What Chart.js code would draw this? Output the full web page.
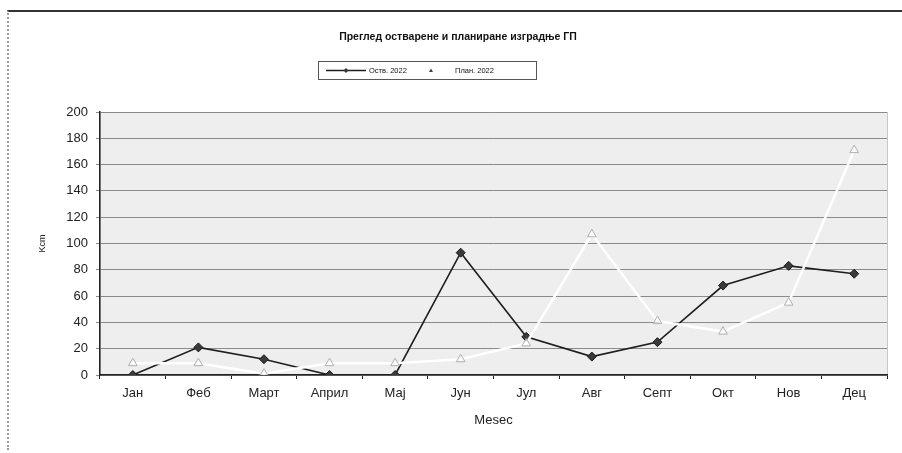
<!DOCTYPE html>
<html>
<head>
<meta charset="utf-8">
<script src="https://cdn.jsdelivr.net/npm/chart.js@4.4.1/dist/chart.umd.min.js"></script>
<style>
  html, body { margin: 0; padding: 0; background: #fff; }
  #wrap { position: relative; width: 902px; height: 453px; }
  #frame { position: absolute; left: 7px; top: 10px; right: 0; bottom: 3px;
           border-top: 2px solid #333; border-left: 2px dotted #999; pointer-events: none; }
</style>
</head>
<body>
<div id="wrap">
  <canvas id="chart" width="902" height="453"></canvas>
  <div id="frame"></div>
</div>
<script>
const months = ["Јан", "Феб", "Март", "Април", "Мај", "Јун", "Јул", "Авг", "Септ", "Окт", "Нов", "Дец"];
const actual2022 = [0, 21, 12, 0, 0, 93, 29, 14, 25, 68, 83, 77];
const plan2022 = [9, 9, 1, 9, 9, 12, 24, 107, 41, 33, 55, 171];
const titleText = "Преглед остварене и планиране изградње ГП";
const fontFamily = "'Liberation Sans', Arial, sans-serif";

// plot background + title + boxed legend, drawn on the canvas
const decor = {
  id: "decor",
  beforeDraw(chart) {
    const { ctx, chartArea: a } = chart;
    ctx.save();
    ctx.fillStyle = "#eeeeee";
    ctx.fillRect(a.left, a.top, a.right - a.left, a.bottom - a.top);
    ctx.strokeStyle = "#c8c8c8";
    ctx.lineWidth = 1;
    ctx.strokeRect(a.left + 0.5, a.top + 0.5, a.right - a.left, a.bottom - a.top);
    ctx.restore();
  },
  afterDraw(chart) {
    const { ctx } = chart;
    const ds = chart.data.datasets;
    ctx.save();
    ctx.fillStyle = "#111";
    ctx.font = "bold 10.5px " + fontFamily;
    ctx.textAlign = "center";
    ctx.textBaseline = "middle";
    ctx.fillText(titleText, 458, 37);

    // legend box
    ctx.strokeStyle = "#555";
    ctx.lineWidth = 1;
    ctx.strokeRect(318.5, 61.5, 218, 18);
    ctx.font = "7.5px " + fontFamily;
    ctx.textAlign = "left";
    const y = 70.5;
    // actual
    ctx.strokeStyle = ds[0].borderColor;
    ctx.lineWidth = 1.5;
    ctx.beginPath(); ctx.moveTo(326, y); ctx.lineTo(366, y); ctx.stroke();
    ctx.fillStyle = ds[0].pointBackgroundColor;
    ctx.beginPath();
    ctx.moveTo(346, y - 2.5); ctx.lineTo(348.5, y); ctx.lineTo(346, y + 2.5); ctx.lineTo(343.5, y);
    ctx.closePath(); ctx.fill();
    ctx.fillStyle = "#111";
    ctx.fillText(ds[0].label, 369, y);
    // plan
    ctx.fillStyle = "#444";
    ctx.beginPath();
    ctx.moveTo(431, y - 2); ctx.lineTo(433, y + 1.5); ctx.lineTo(429, y + 1.5);
    ctx.closePath(); ctx.fill();
    ctx.fillStyle = "#111";
    ctx.fillText(ds[1].label, 455, y);
    ctx.restore();
  }
};

new Chart(document.getElementById("chart"), {
  type: "line",
  data: {
    labels: months,
    datasets: [
      {
        label: "Оств. 2022",
        data: actual2022,
        borderColor: "#1e1e1e",
        borderWidth: 1.6,
        pointStyle: "rectRot",
        pointRadius: 4.5,
        pointBackgroundColor: "#3a3a3a",
        pointBorderColor: "#1a1a1a",
        pointBorderWidth: 1,
        order: 2,
      },
      {
        label: "План. 2022",
        data: plan2022,
        borderColor: "#ffffff",
        borderWidth: 2.5,
        pointStyle: "triangle",
        pointRadius: 5,
        pointBackgroundColor: "rgba(255,255,255,0.6)",
        pointBorderColor: "#b0b0b0",
        pointBorderWidth: 1,
        order: 1,
      },
    ],
  },
  options: {
    responsive: false,
    animation: false,
    layout: { padding: { left: 8, right: 15, top: 112, bottom: 0 } },
    plugins: { legend: { display: false }, title: { display: false }, tooltip: { enabled: false } },
    scales: {
      x: {
        offset: true,
        grid: { offset: true, drawOnChartArea: false, color: "#222", tickLength: 4 },
        border: { color: "#222", width: 1.5 },
        ticks: { color: "#222", font: { size: 13, family: fontFamily }, padding: 7, maxRotation: 0 },
        title: { display: true, text: "Mesec", color: "#222", font: { size: 13, family: fontFamily }, padding: { top: 25, bottom: 25 } },
        afterFit(s) { s.height = 78; },
      },
      y: {
        min: 0,
        max: 200,
        ticks: { stepSize: 20, color: "#222", font: { size: 13, family: fontFamily }, padding: 8 },
        grid: { color: "#8a8a8a", lineWidth: 1, tickLength: 4 },
        border: { color: "#222", width: 1.5 },
        title: { display: true, text: "Kcm", color: "#222", font: { size: 9, family: fontFamily }, padding: { top: 29, bottom: 29 } },
        afterFit(s) { s.width = 92; },
      },
    },
  },
  plugins: [decor],
});
</script>
</body>
</html>
